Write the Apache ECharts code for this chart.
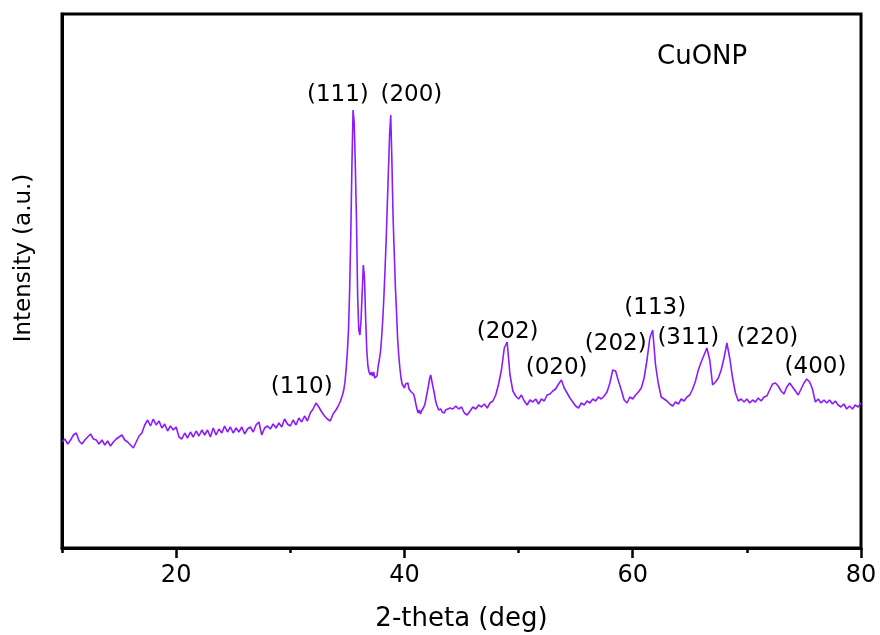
<!DOCTYPE html>
<html>
<head>
<meta charset="utf-8">
<script src="https://cdn.jsdelivr.net/npm/echarts@6/dist/echarts.min.js"></script>
<style>
  html, body { margin: 0; padding: 0; background: #fff; }
  #xrd-chart { width: 880px; height: 635px; }
</style>
</head>
<body>
<div id="xrd-chart"></div>
<script>
// 2-theta positions (deg): 0.25 steps, 0.1 steps across the main peaks
const twoTheta = [
  10, 10.25, 10.5, 10.75, 11, 11.25, 11.5, 11.75, 12, 12.25, 12.5, 12.75, 13, 13.25, 13.5, 13.75,
  14, 14.25, 14.5, 14.75, 15, 15.25, 15.5, 15.75, 16, 16.25, 16.5, 16.75, 17, 17.25, 17.5, 17.75,
  18, 18.25, 18.5, 18.75, 19, 19.25, 19.5, 19.75, 20, 20.25, 20.5, 20.75, 21, 21.25, 21.5, 21.75,
  22, 22.25, 22.5, 22.75, 23, 23.25, 23.5, 23.75, 24, 24.25, 24.5, 24.75, 25, 25.25, 25.5, 25.75,
  26, 26.25, 26.5, 26.75, 27, 27.25, 27.5, 27.75, 28, 28.25, 28.5, 28.75, 29, 29.25, 29.5, 29.75,
  30, 30.25, 30.5, 30.75, 31, 31.25, 31.5, 31.75, 32, 32.25, 32.5, 32.75, 33, 33.25, 33.5, 33.75, 34,
  34.1, 34.2, 34.3, 34.4, 34.5, 34.6, 34.7, 34.8, 34.9, 35, 35.1, 35.2, 35.3, 35.4, 35.5, 35.6, 35.7, 35.8, 35.9,
  36, 36.1, 36.2, 36.3, 36.4, 36.5, 36.6, 36.7, 36.8, 36.9, 37, 37.1, 37.2, 37.3, 37.4, 37.5, 37.6, 37.7, 37.8, 37.9,
  38, 38.1, 38.2, 38.3, 38.4, 38.5, 38.6, 38.7, 38.8, 38.9, 39, 39.1, 39.2, 39.3, 39.4, 39.5, 39.6, 39.7, 39.8, 39.9,
  40, 40.1, 40.2, 40.3, 40.4, 40.5, 40.6, 40.7, 40.8, 40.9, 41, 41.1, 41.2, 41.3, 41.4, 41.5, 41.6, 41.7, 41.8, 41.9,
  42, 42.1, 42.2, 42.3, 42.4, 42.5, 42.6, 42.7, 42.8, 42.9, 43, 43.1, 43.2, 43.3, 43.4, 43.5, 43.6, 43.7, 43.8, 43.9, 44,
  44.25, 44.5, 44.75, 45, 45.25, 45.5, 45.75, 46, 46.25, 46.5, 46.75, 47, 47.25, 47.5, 47.75,
  48, 48.25, 48.5, 48.75, 49, 49.25, 49.5, 49.75, 50, 50.25, 50.5, 50.75, 51, 51.25, 51.5, 51.75,
  52, 52.25, 52.5, 52.75, 53, 53.25, 53.5, 53.75, 54, 54.25, 54.5, 54.75, 55, 55.25, 55.5, 55.75,
  56, 56.25, 56.5, 56.75, 57, 57.25, 57.5, 57.75, 58, 58.25, 58.5, 58.75, 59, 59.25, 59.5, 59.75,
  60, 60.25, 60.5, 60.75, 61, 61.25, 61.5, 61.75, 62, 62.25, 62.5, 62.75, 63, 63.25, 63.5, 63.75,
  64, 64.25, 64.5, 64.75, 65, 65.25, 65.5, 65.75, 66, 66.25, 66.5, 66.75, 67, 67.25, 67.5, 67.75,
  68, 68.25, 68.5, 68.75, 69, 69.25, 69.5, 69.75, 70, 70.25, 70.5, 70.75, 71, 71.25, 71.5, 71.75,
  72, 72.25, 72.5, 72.75, 73, 73.25, 73.5, 73.75, 74, 74.25, 74.5, 74.75, 75, 75.25, 75.5, 75.75,
  76, 76.25, 76.5, 76.75, 77, 77.25, 77.5, 77.75, 78, 78.25, 78.5, 78.75, 79, 79.25, 79.5, 79.75, 80
];

// intensity (a.u.), one value per twoTheta entry
const intensity = [
  106, 109, 104, 108, 113, 115, 107, 104, 108, 111, 114, 109, 108, 104, 108, 103,
  107, 102, 106, 109, 111, 113, 108, 106, 103, 100, 106, 112, 115, 123, 128, 122,
  129, 123, 127, 120, 124, 117, 122, 118, 121, 111, 109, 115, 110, 116, 111, 117,
  112, 118, 113, 118, 111, 120, 113, 119, 115, 122, 116, 121, 115, 120, 116, 121,
  114, 119, 121, 116, 123, 126, 113, 120, 122, 119, 124, 120, 125, 121, 129, 124,
  122, 128, 123, 130, 126, 132, 127, 135, 139, 145, 141, 136, 132, 129, 127, 134, 138,
  139, 142, 144, 147, 149, 154, 159, 167, 180, 196, 218, 258, 313, 383, 438, 425, 381, 328, 253,
  218, 213, 228, 256, 283, 270, 230, 198, 182, 176, 173, 176, 172, 176, 170, 168, 172, 182, 188, 196,
  210, 228, 251, 278, 308, 343, 378, 413, 433, 388, 333, 298, 263, 238, 210, 193, 180, 170, 164, 162,
  160, 164, 162, 165, 159, 161, 156, 158, 154, 150, 144, 139, 135, 138, 134, 137, 136, 141, 144, 150,
  156, 162, 169, 173, 167, 161, 156, 149, 144, 141, 138, 136, 139, 136, 138, 135, 138, 136, 139, 137, 140,
  139, 142, 139, 141, 135, 133, 137, 141, 139, 143, 141, 144, 140, 145, 147,
  153, 164, 178, 200, 206, 173, 157, 152, 149, 153, 147, 143, 148, 146, 149, 144,
  149, 147, 153, 154, 157, 159, 164, 168, 160, 155, 150, 146, 142, 140, 145, 143,
  147, 145, 149, 147, 151, 149, 152, 156, 165, 178, 177, 167, 158, 148, 145, 151,
  149, 153, 156, 160, 170, 188, 210, 218, 183, 164, 151, 149, 147, 144, 142, 146,
  144, 149, 147, 151, 153, 159, 167, 178, 186, 193, 200, 188, 163, 166, 170, 178,
  190, 205, 190, 170, 155, 147, 149, 146, 149, 145, 148, 146, 150, 147, 151, 152,
  158, 164, 165, 162, 157, 154, 161, 165, 161, 157, 153, 159, 165, 169, 166, 159,
  146, 149, 145, 148, 145, 148, 144, 147, 143, 141, 144, 139, 142, 139, 143, 141, 145
];

// Miller index labels and where they sit (deg, a.u.)
const peakLabels = ['(110)', '(111)', '(200)', '(202)', '(020)', '(202)', '(113)', '(311)', '(220)', '(400)'];
const peakLabelX = [31.0, 34.17, 40.61, 49.04, 53.33, 58.51, 61.97, 64.87, 71.8, 76.01];
const peakLabelY = [161, 453, 453, 216, 180, 204, 240, 210, 210, 181];

const xMajorTicks = [20, 40, 60, 80];

const FONT = 'DejaVu Sans';

const option = {
  animation: false,
  backgroundColor: '#fff',
  grid: {
    left: 62,
    right: 19,
    top: 14,
    bottom: 87,
    containLabel: false,
    outerBoundsMode: 'none',
    show: true,
    borderColor: '#000',
    borderWidth: 3
  },
  legend: {
    data: ['CuONP'],
    icon: 'none',
    itemWidth: 0,
    itemHeight: 0,
    padding: 0,
    left: 652,
    top: 44,
    textStyle: { fontFamily: FONT, fontSize: 26, color: '#000' },
    selectedMode: false
  },
  xAxis: [
    {
      type: 'value',
      min: 10,
      max: 80,
      interval: 10,
      name: '2-theta (deg)',
      nameLocation: 'middle',
      nameGap: 58,
      nameTextStyle: { fontFamily: FONT, fontSize: 26, color: '#000' },
      axisLine: { lineStyle: { color: '#000', width: 3 } },
      axisTick: { length: 5, lineStyle: { color: '#000', width: 2.5 } },
      axisLabel: {
        margin: 16,
        fontFamily: FONT,
        fontSize: 24,
        color: '#000',
        formatter: v => (xMajorTicks.includes(v) ? String(v) : '')
      },
      splitLine: { show: false }
    },
    {
      // long ticks at the labelled values
      type: 'value',
      min: 10,
      max: 80,
      position: 'bottom',
      axisLine: { show: false },
      axisTick: { length: 10, customValues: xMajorTicks, lineStyle: { color: '#000', width: 2.5 } },
      axisLabel: { show: false },
      splitLine: { show: false }
    }
  ],
  yAxis: {
    type: 'value',
    min: 0,
    max: 534,
    axisLine: { show: true, lineStyle: { color: '#000', width: 3 } },
    axisTick: { show: false },
    axisLabel: { show: false },
    splitLine: { show: false }
  },
  graphic: [
    {
      type: 'text',
      x: 24,
      y: 258,
      rotation: Math.PI / 2,
      style: {
        text: 'Intensity (a.u.)',
        font: '23px "DejaVu Sans"',
        fill: '#000',
        align: 'center',
        verticalAlign: 'middle'
      }
    }
  ],
  series: [
    {
      name: 'CuONP',
      type: 'line',
      xAxisIndex: 0,
      data: twoTheta.map((t, i) => [t, intensity[i]]),
      showSymbol: false,
      lineStyle: { color: '#8a1cff', width: 1.6 },
      itemStyle: { color: '#8a1cff' },
      emphasis: { disabled: true },
      silent: true
    },
    {
      name: 'labels',
      type: 'scatter',
      xAxisIndex: 0,
      symbolSize: 1,
      itemStyle: { color: 'rgba(0,0,0,0)', opacity: 1 },
      silent: true,
      data: peakLabelX.map((x, i) => [x, peakLabelY[i]]),
      label: {
        show: true,
        position: 'inside',
        fontFamily: FONT,
        fontSize: 23,
        color: '#000',
        opacity: 1,
        formatter: p => peakLabels[p.dataIndex]
      }
    }
  ]
};

const chart = echarts.init(document.getElementById('xrd-chart'));
chart.setOption(option);
</script>
</body>
</html>
